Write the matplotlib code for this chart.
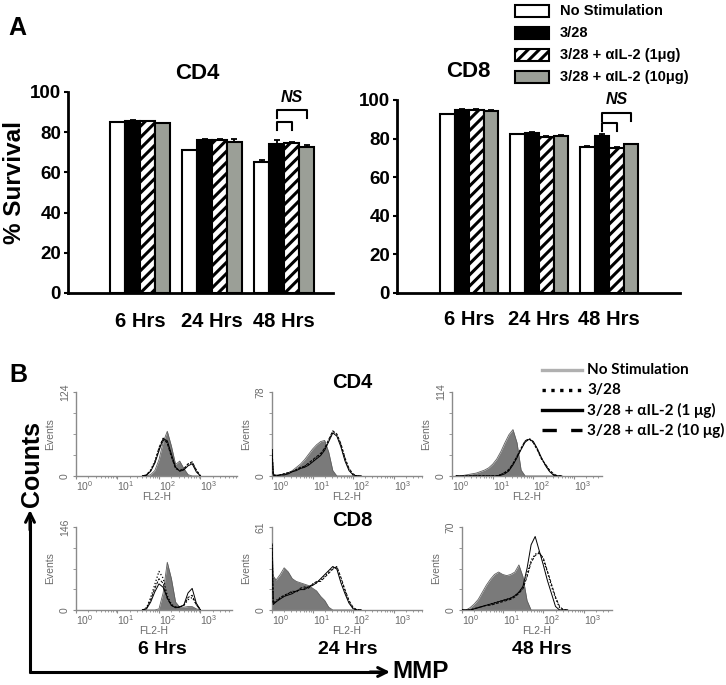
import matplotlib

matplotlib.use("Agg")
import matplotlib.pyplot as plt
import numpy as np
from matplotlib.patches import Rectangle

W, H = 726, 685

plt.rcParams["font.family"] = ["Liberation Sans", "DejaVu Sans"]
plt.rcParams["hatch.linewidth"] = 2.2
plt.rcParams["mathtext.fontset"] = "custom"
plt.rcParams["mathtext.rm"] = "Liberation Sans"

# ---- panel A: % survival (rows = time point, cols = condition) ----
TIMES = ["6 Hrs", "24 Hrs", "48 Hrs"]
CONDITIONS = ["No Stimulation", "3/28", "3/28 + \u03b1IL-2 (1\u03bcg)", "3/28 + \u03b1IL-2 (10\u03bcg)"]
CD4_SURVIVAL = [[85.0, 85.6, 85.5, 84.5],
                [70.9, 76.2, 76.0, 74.9],
                [65.2, 74.2, 74.6, 72.5]]
CD4_ERR = [[0.3, 0.3, 0.3, 0.3],
           [0.4, 0.4, 0.4, 1.6],
           [0.8, 2.0, 0.4, 1.2]]
CD8_SURVIVAL = [[92.6, 94.8, 95.0, 94.5],
                [82.2, 83.0, 81.0, 81.3],
                [75.8, 81.3, 75.3, 77.0]]
CD8_ERR = [[0.3, 0.3, 0.3, 0.3],
           [0.4, 0.6, 0.4, 0.4],
           [0.4, 1.0, 0.4, 0.4]]

BAR_FACE = ["white", "black", "white", "#9b9f97"]
BAR_HATCH = [None, None, "///", None]

# ---- panel B: MMP histograms, x in decades of FL2-H ----
HIST_LEGEND = ["No Stimulation", "3/28", "3/28 + \u03b1IL-2 (1 \u03bcg)", "3/28 + \u03b1IL-2 (10 \u03bcg)"]

CD4_6H_BINS = [1.6, 1.7, 1.8, 1.9, 2.0, 2.1, 2.2, 2.3, 2.4, 2.5, 2.6, 2.7, 2.8, 2.9, 3.0]
CD4_6H_NONE = [0, 0, 2, 8, 24, 50, 66, 44, 17, 22, 11, 2, 0, 0, 0]
CD4_6H_328 = [0, 2, 9, 22, 40, 53, 50, 30, 12, 8, 10, 17, 20, 8, 0]
CD4_6H_IL2_1 = [0, 1, 7, 19, 37, 55, 52, 32, 13, 7, 9, 15, 18, 6, 0]
CD4_6H_IL2_10 = [0, 2, 8, 20, 42, 56, 48, 28, 11, 8, 11, 18, 21, 9, 0]

CD4_24H_BINS = [0.0, 0.03, 0.1, 0.2, 0.3, 0.4, 0.5, 0.6, 0.7, 0.8, 0.9, 1.0,
                1.1, 1.2, 1.3, 1.4, 1.5, 1.6, 1.7, 1.8, 1.9, 2.0, 2.1, 2.2]
CD4_24H_NONE = [27, 2, 1, 1, 2, 3, 5, 8, 11, 15, 20, 25, 29, 32, 33, 22, 5, 0, 0, 0, 0, 0, 0, 0]
CD4_24H_328 = [25, 1, 0, 1, 2, 3, 4, 6, 7, 9, 11, 14, 17, 20, 25, 33, 41, 38, 29, 16, 6, 1, 0, 0]
CD4_24H_IL2_1 = [24, 1, 0, 1, 1, 2, 4, 5, 7, 8, 10, 13, 16, 19, 24, 32, 40, 37, 27, 14, 5, 1, 0, 0]
CD4_24H_IL2_10 = [25, 1, 0, 1, 2, 3, 4, 6, 8, 9, 12, 15, 18, 21, 26, 34, 42, 39, 30, 17, 7, 2, 0, 0]

CD4_48H_BINS = [0.1, 0.2, 0.3, 0.4, 0.5, 0.6, 0.7, 0.8, 0.9, 1.0, 1.1, 1.2, 1.3, 1.4,
                1.5, 1.6, 1.7, 1.8, 1.9, 2.0, 2.1, 2.2, 2.3, 2.4, 2.5, 2.6, 2.7]
CD4_48H_NONE = [0, 0, 1, 2, 3, 4, 6, 8, 11, 16, 23, 33, 45, 56, 63, 45, 8, 0, 0, 0, 0, 0, 0, 0, 0, 0, 0]
CD4_48H_328 = [0, 0, 0, 0, 0, 0, 0, 0, 0, 0, 0, 2, 4, 8, 16, 26, 37, 47, 51, 46, 36, 24, 15, 7, 2, 0, 0]
CD4_48H_IL2_1 = [0, 0, 0, 0, 0, 0, 0, 0, 0, 0, 0, 1, 3, 7, 15, 25, 36, 46, 50, 47, 37, 25, 14, 6, 1, 0, 0]
CD4_48H_IL2_10 = [0, 0, 0, 0, 0, 0, 0, 0, 0, 0, 0, 2, 5, 9, 17, 27, 38, 48, 50, 45, 35, 23, 16, 8, 3, 0, 0]

CD8_6H_BINS = [1.6, 1.7, 1.8, 1.9, 2.0, 2.1, 2.2, 2.3, 2.4, 2.5, 2.6, 2.7, 2.8, 2.9, 3.0]
CD8_6H_NONE = [0, 0, 0, 0, 2, 30, 84, 55, 14, 5, 5, 6, 6, 2, 0]
CD8_6H_328 = [0, 4, 22, 45, 68, 56, 25, 10, 5, 5, 8, 18, 22, 10, 0]
CD8_6H_IL2_1 = [0, 2, 14, 32, 46, 40, 22, 8, 4, 5, 9, 30, 38, 12, 0]
CD8_6H_IL2_10 = [0, 3, 18, 38, 55, 47, 20, 8, 5, 6, 8, 22, 26, 9, 0]

CD8_24H_BINS = [0.0, 0.03, 0.1, 0.2, 0.3, 0.4, 0.5, 0.6, 0.7, 0.8, 0.9, 1.0,
                1.1, 1.2, 1.3, 1.4, 1.5, 1.6, 1.7, 1.8, 1.9, 2.0, 2.1, 2.2]
CD8_24H_NONE = [50, 25, 22, 26, 31, 28, 23, 21, 20, 19, 18, 16, 14, 10, 7, 2, 0, 0, 0, 0, 0, 0, 0, 0]
CD8_24H_328 = [48, 5, 7, 9, 10, 12, 13, 14, 15, 16, 17, 19, 20, 22, 25, 28, 31, 31, 22, 14, 6, 1, 0, 0]
CD8_24H_IL2_1 = [47, 4, 6, 8, 10, 11, 12, 14, 15, 15, 17, 18, 20, 23, 26, 29, 32, 30, 20, 12, 5, 1, 0, 0]
CD8_24H_IL2_10 = [49, 5, 6, 9, 11, 12, 14, 13, 16, 17, 16, 19, 21, 21, 24, 27, 30, 32, 24, 15, 7, 2, 0, 0]

CD8_48H_BINS = [0.0, 0.1, 0.2, 0.3, 0.4, 0.5, 0.6, 0.7, 0.8, 0.9, 1.0, 1.1, 1.2, 1.3,
                1.4, 1.5, 1.6, 1.7, 1.8, 1.9, 2.0, 2.1, 2.2, 2.3, 2.4, 2.5, 2.6]
CD8_48H_NONE = [0, 0, 2, 5, 9, 15, 21, 26, 30, 32, 30, 29, 30, 32, 38, 28, 8, 0, 0, 0, 0, 0, 0, 0, 0, 0, 0]
CD8_48H_328 = [0, 0, 0, 1, 2, 3, 4, 5, 6, 7, 8, 9, 10, 12, 15, 19, 30, 42, 47, 49, 42, 32, 20, 10, 2, 0, 0]
CD8_48H_IL2_1 = [0, 0, 0, 1, 2, 3, 4, 5, 6, 7, 8, 9, 10, 12, 15, 20, 35, 55, 62, 50, 38, 25, 14, 3, 0, 0, 0]
CD8_48H_IL2_10 = [0, 0, 0, 1, 2, 3, 4, 4, 5, 6, 7, 8, 9, 11, 14, 18, 28, 40, 46, 48, 44, 33, 22, 11, 3, 0, 0]

HIST_YMAX = [124, 78, 114, 146, 61, 70]

FILL = "#7a7a7a"
AXIS_GRAY = "#8a8a8a"
TEXT_GRAY = "#6a6a6a"


def px_axes(fig, left, top, right, bottom):
    return fig.add_axes([left / W, 1 - bottom / H, (right - left) / W, (bottom - top) / H])


def bar_panel(ax, values, errors, xlim, label_pad, ns):
    width = 0.208
    offsets = np.array([-1.5, -0.5, 0.5, 1.5]) * width
    x = np.arange(len(TIMES))
    vals = np.array(values)
    errs = np.array(errors)
    for j in range(len(CONDITIONS)):
        ax.bar(x + offsets[j], vals[:, j], width, color=BAR_FACE[j], edgecolor="black",
               linewidth=1.5, hatch=BAR_HATCH[j],
               yerr=[np.zeros(len(TIMES)), errs[:, j]],
               error_kw=dict(ecolor="black", elinewidth=1.3, capsize=2.5, capthick=1.3),
               zorder=2)
    ax.set_xlim(*xlim)
    ax.set_ylim(0, 100)
    for s in ("top", "right"):
        ax.spines[s].set_visible(False)
    for s in ("left", "bottom"):
        ax.spines[s].set_linewidth(2.0)
    ax.set_yticks([0, 20, 40, 60, 80, 100])
    ax.set_xticks(x, TIMES)
    ax.tick_params(axis="y", length=3, width=1.5, pad=2, labelsize=13.5)
    ax.tick_params(axis="x", length=0, pad=label_pad, labelsize=14.5)
    for t in ax.get_xticklabels() + ax.get_yticklabels():
        t.set_fontweight("bold")

    # NS brackets over the 48 h group
    black_x, hatch_x, gray_x = 2 + offsets[1], 2 + offsets[2], 2 + offsets[3]
    (outer, inner, ns_y) = ns
    ax.plot([black_x, black_x, gray_x, gray_x], [outer - 4, outer, outer, outer - 4],
            color="black", lw=1.5, clip_on=False)
    ax.plot([black_x, black_x, hatch_x, hatch_x], [inner - 4, inner, inner, inner - 4],
            color="black", lw=1.5, clip_on=False)
    ax.text(hatch_x, ns_y, "NS", ha="center", va="center", fontsize=11.5,
            fontweight="bold", fontstyle="italic", clip_on=False)


def hist_panel(ax, height_px, bins, none, c328, il1, il10, ymax, xmax):
    ax.fill_between(bins, none, color=FILL, lw=0, zorder=1)
    ax.plot(bins, none, color="#5e5e5e", lw=0.6, zorder=2)
    ax.plot(bins, c328, color="black", ls=":", lw=0.9, zorder=3)
    ax.plot(bins, il1, color="black", ls="-", lw=0.7, zorder=3)
    ax.plot(bins, il10, color="black", ls=(0, (3, 1.5)), lw=0.7, zorder=3)
    ax.set_xlim(0, xmax)
    ax.set_ylim(0, ymax)
    ax.patch.set_alpha(0)
    for s in ("top", "right"):
        ax.spines[s].set_visible(False)
    for s in ("left", "bottom"):
        ax.spines[s].set_color(AXIS_GRAY)
        ax.spines[s].set_linewidth(1.0)
    ax.set_xticks([0, 1, 2, 3], [r"$\mathregular{10^{%d}}$" % d for d in range(4)])
    minor = [d + np.log10(k) for d in range(4) for k in range(2, 10) if d + np.log10(k) < xmax]
    ax.set_xticks(minor, minor=True)
    ax.set_yticks([0, ymax], ["0", str(ymax)])
    ax.set_yticks([ymax / 4, ymax / 2, 3 * ymax / 4], minor=True)
    ax.tick_params(which="both", color=AXIS_GRAY, labelcolor=TEXT_GRAY)
    ax.tick_params(axis="x", which="major", length=2, pad=0, labelsize=7.5)
    ax.tick_params(axis="x", which="minor", length=1.5)
    ax.tick_params(axis="y", which="both", length=2.5, pad=2, labelsize=7.5)
    for t in ax.get_xticklabels():
        t.set_horizontalalignment("left")
    for t in ax.get_yticklabels():
        t.set_rotation(90)
        t.set_verticalalignment("center")
    ax.set_xlabel("FL2-H", fontsize=7.5, color=TEXT_GRAY)
    ax.xaxis.set_label_coords(0.5, -15.5 / height_px)
    ax.set_ylabel("Events", fontsize=7.5, color=TEXT_GRAY, labelpad=3)


fig = plt.figure(figsize=(W / 100, H / 100), dpi=100)

ax_cd4 = px_axes(fig, 68, 92, 333, 293)
bar_panel(ax_cd4, CD4_SURVIVAL, CD4_ERR, (-1.0, 2.68), 14, (91, 85, 97.5))
ax_cd8 = px_axes(fig, 397, 100, 680, 293)
bar_panel(ax_cd8, CD8_SURVIVAL, CD8_ERR, (-1.03, 3.01), 12, (93.3, 88, 100))

panels = [
    ((76, 392, 237, 476), 3.88, CD4_6H_BINS, CD4_6H_NONE, CD4_6H_328, CD4_6H_IL2_1, CD4_6H_IL2_10),
    ((272, 392, 422, 476), 3.7, CD4_24H_BINS, CD4_24H_NONE, CD4_24H_328, CD4_24H_IL2_1, CD4_24H_IL2_10),
    ((452, 392, 602, 476), 3.69, CD4_48H_BINS, CD4_48H_NONE, CD4_48H_328, CD4_48H_IL2_1, CD4_48H_IL2_10),
    ((76, 527, 232, 610), 3.76, CD8_6H_BINS, CD8_6H_NONE, CD8_6H_328, CD8_6H_IL2_1, CD8_6H_IL2_10),
    ((272, 527, 422, 610), 3.7, CD8_24H_BINS, CD8_24H_NONE, CD8_24H_328, CD8_24H_IL2_1, CD8_24H_IL2_10),
    ((462, 527, 612, 610), 3.69, CD8_48H_BINS, CD8_48H_NONE, CD8_48H_328, CD8_48H_IL2_1, CD8_48H_IL2_10),
]
for (box, xmax, bins, none, c328, il1, il10), ymax in zip(panels, HIST_YMAX):
    hist_panel(px_axes(fig, *box), box[3] - box[1], bins, none, c328, il1, il10, ymax, xmax)

# overlay in pixel coordinates for labels, legends and arrows
ov = fig.add_axes([0, 0, 1, 1])
ov.set_xlim(0, W)
ov.set_ylim(H, 0)
ov.axis("off")

bold = dict(fontweight="bold", ha="center", va="center")
ov.text(17, 28, "A", fontsize=18, **bold)
ov.text(197, 73, "CD4", fontsize=16, **bold)
ov.text(468, 71, "CD8", fontsize=16, **bold)
ov.text(15, 182, "% Survival", fontsize=17.5, rotation=90, **bold)

for i, label in enumerate(CONDITIONS):
    yc = 11 + 22 * i
    ov.add_patch(Rectangle((515, yc - 6), 34, 12, facecolor=BAR_FACE[i], edgecolor="black",
                           lw=1.5, hatch=BAR_HATCH[i]))
    ov.text(560, yc, label, fontsize=10.5, fontweight="bold", va="center")

ov.text(18, 375, "B", fontsize=18, **bold)
ov.text(352, 382, "CD4", fontsize=14.5, **bold)
ov.text(352, 520, "CD8", fontsize=14.5, **bold)
for xc, label in zip([162, 348, 542], TIMES):
    ov.text(xc, 649, label, fontsize=14, **bold)
ov.text(32, 464, "Counts", fontsize=18, rotation=90, **bold)
ov.text(421, 672, "MMP", fontsize=17.5, **bold)

ov.plot([30, 30], [673, 520], color="black", lw=2.2, solid_capstyle="butt")
ov.plot([29, 382], [672, 672], color="black", lw=2.2, solid_capstyle="butt")
ov.annotate("", xy=(30, 510), xytext=(30, 530),
            arrowprops=dict(arrowstyle="->", lw=2.2, mutation_scale=16, shrinkA=0, shrinkB=0))
ov.annotate("", xy=(390, 672), xytext=(370, 672),
            arrowprops=dict(arrowstyle="->", lw=2.2, mutation_scale=16, shrinkA=0, shrinkB=0))

leg_styles = [dict(color="#b0b0b0", ls="-"), dict(color="black", ls=":"),
              dict(color="black", ls="-"), dict(color="black", ls=(0, (4.3, 4.3)))]
for i, (label, st) in enumerate(zip(HIST_LEGEND, leg_styles)):
    yc = 370 + 20 * i
    ov.plot([542, 582], [yc, yc], lw=2.4, **st)
    ov.text(587, yc, label, fontsize=11, fontweight="bold", va="center",
            family=["Lato", "DejaVu Sans"])

fig.savefig("out.png", dpi=100)
